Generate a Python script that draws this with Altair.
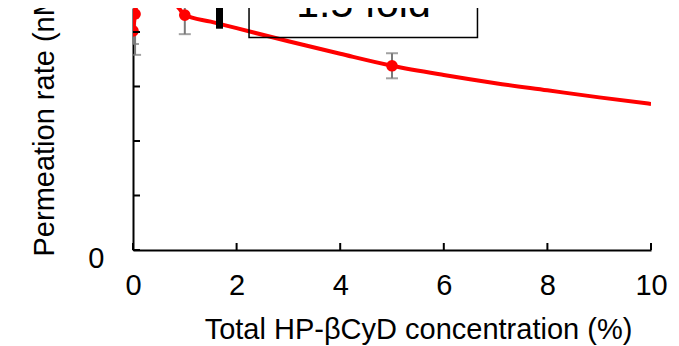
import altair as alt
import pandas as pd

# measured points (x = total HP-βCyD %, y = permeation rate, arbitrary tick units)
pt_x = [0, 0.04, 1, 5]
pt_y = [4.02, 4.33, 4.31, 3.38]
pt_err = [0.24, 0.75, 0.35, 0.23]

# fitted curve
curve_x = [0, 0.04, 0.08, 0.15, 0.25, 0.4, 0.55, 0.7, 0.8, 0.9, 1.0, 1.5, 2, 3, 4, 5, 6, 7, 8, 9, 10]
curve_y = [4.02, 4.33, 4.62, 5.0, 5.3, 5.4, 5.2, 4.78, 4.55, 4.42, 4.31, 4.19, 4.07, 3.83, 3.60, 3.38, 3.21, 3.06, 2.93, 2.80, 2.68]

x_ticks = [0, 2, 4, 6, 8, 10]
y_ticks = [0, 1, 2, 3, 4]
y_labels = [0]

# annotation
bar_x = [1.67]
bar_y = [4.06]
bar_y2 = [5.2]
box_x = [2.24]
box_x2 = [6.65]
box_y = [3.90]
box_y2 = [5.5]
ann_x = [4.45]
ann_y = [4.27]
ann_text = ["1.5 fold"]

FONT = "Liberation Sans"
xs = alt.Scale(domain=[0, 10], nice=False, zero=False)
ys = alt.Scale(domain=[0, 4.44], nice=False, zero=False)

pts = pd.DataFrame({"x": pt_x, "y": pt_y, "err": pt_err})
pts["lo"] = pts["y"] - pts["err"]
pts["hi"] = pts["y"] + pts["err"]
curve = pd.DataFrame({"x": curve_x, "y": curve_y})

base_axes = alt.Chart(pd.DataFrame({"x": [0], "y": [0]})).mark_point(opacity=0).encode(
    x=alt.X("x:Q", scale=xs, axis=alt.Axis(
        values=x_ticks, ticks=False, tickSize=0, grid=False, format="d",
        domainColor="black", domainWidth=2,
        labelFont=FONT, labelFontSize=29, labelColor="black",
        labelPadding=44, labelBaseline="alphabetic", labelFlush=False,
        title="Total HP-βCyD concentration (%)", titleFont=FONT, titleFontSize=29,
        titleFontWeight="normal", titleColor="black",
        titleX=285, titleY=88, titleAlign="center", titleBaseline="alphabetic")),
    y=alt.Y("y:Q", scale=ys, axis=alt.Axis(
        values=y_labels, ticks=False, tickSize=0, grid=False, format="d",
        domainColor="black", domainWidth=2,
        labelFont=FONT, labelFontSize=29, labelColor="black",
        labelPadding=29, labelOffset=17, labelBaseline="alphabetic",
        title="Permeation rate (nM/min)", titleFont=FONT, titleFontSize=29,
        titleFontWeight="normal", titleColor="black", titleAngle=270,
        titleX=-80, titleY=248, titleAlign="left", titleBaseline="alphabetic")),
)

xtick_layer = alt.Chart(pd.DataFrame({"t": x_ticks})).mark_rule(color="black", strokeWidth=2).encode(
    x=alt.X("t:Q", scale=xs), y=alt.value(242), y2=alt.value(235))
ytick_layer = alt.Chart(pd.DataFrame({"t": y_ticks})).mark_rule(color="black", strokeWidth=2).encode(
    y=alt.Y("t:Q", scale=ys), x=alt.value(0), x2=alt.value(7))

err_rule = alt.Chart(pts).mark_rule(color="#7a7a7a", strokeWidth=2, clip=True).encode(
    x=alt.X("x:Q", scale=xs), y=alt.Y("lo:Q", scale=ys), y2="hi:Q")
cap_lo = alt.Chart(pts).mark_tick(color="#7a7a7a", orient="horizontal", size=12, thickness=2, clip=True).encode(
    x=alt.X("x:Q", scale=xs), y=alt.Y("lo:Q", scale=ys))
cap_hi = alt.Chart(pts).mark_tick(color="#7a7a7a", orient="horizontal", size=12, thickness=2, clip=True).encode(
    x=alt.X("x:Q", scale=xs), y=alt.Y("hi:Q", scale=ys))

line = alt.Chart(curve).mark_line(color="#ff0000", strokeWidth=4, clip=True, interpolate="monotone").encode(
    x=alt.X("x:Q", scale=xs), y=alt.Y("y:Q", scale=ys))
points = alt.Chart(pts).mark_circle(color="#ff0000", size=135, opacity=1, clip=True).encode(
    x=alt.X("x:Q", scale=xs), y=alt.Y("y:Q", scale=ys))

bar = alt.Chart(pd.DataFrame({"x": bar_x, "y": bar_y, "y2": bar_y2})).mark_rule(
    color="black", strokeWidth=7, clip=True).encode(
    x=alt.X("x:Q", scale=xs), y=alt.Y("y:Q", scale=ys), y2="y2:Q")
box = alt.Chart(pd.DataFrame({"x": box_x, "x2": box_x2, "y": box_y, "y2": box_y2})).mark_rect(
    fill=None, fillOpacity=0, stroke="black", strokeWidth=1.5, clip=True).encode(
    x=alt.X("x:Q", scale=xs), x2="x2:Q", y=alt.Y("y:Q", scale=ys), y2="y2:Q")
ann = alt.Chart(pd.DataFrame({"x": ann_x, "y": ann_y, "t": ann_text})).mark_text(
    font=FONT, fontSize=41, color="black", align="center", baseline="alphabetic", clip=True).encode(
    x=alt.X("x:Q", scale=xs), y=alt.Y("y:Q", scale=ys), text="t:N")

chart = alt.layer(base_axes, err_rule, cap_lo, cap_hi, line, points, xtick_layer, ytick_layer,
                  bar, box, ann).properties(
    width=518, height=242,
    autosize=alt.AutoSizeParams(type="none"),
    padding={"left": 125, "top": 0, "right": 20, "bottom": 96},
    background="white",
).configure_view(stroke=None)

chart.save("out.html", embed_options={"renderer": "svg", "actions": False})
